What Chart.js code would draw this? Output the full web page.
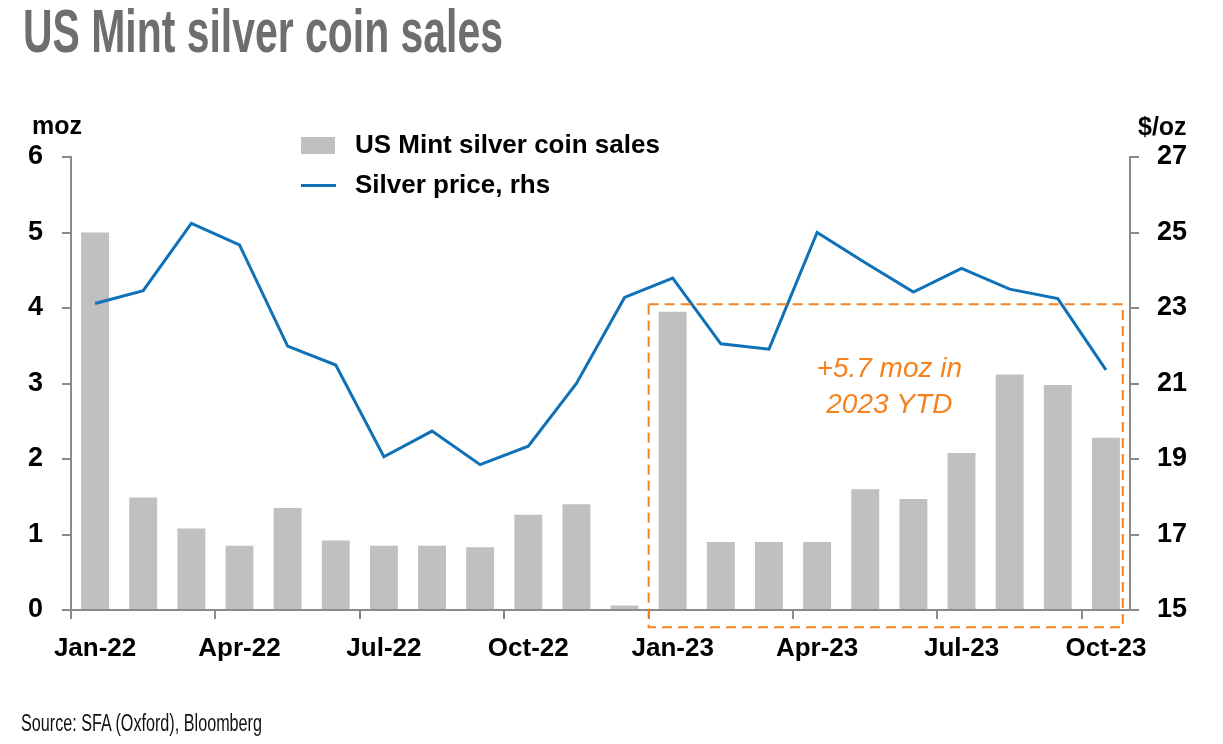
<!DOCTYPE html>
<html>
<head>
<meta charset="utf-8">
<script src="https://cdn.jsdelivr.net/npm/chart.js@4.4.1/dist/chart.umd.min.js"></script>
<style>
  html, body { margin: 0; padding: 0; background: #fff; }
  #wrap { position: relative; width: 1223px; height: 744px; overflow: hidden; font-family: "Liberation Sans", Arial, sans-serif; }
  #chart { position: absolute; left: 0; top: 0; }
  .txt { position: absolute; white-space: nowrap; line-height: 1; }
  #title { left: 23px; top: 0px; font-size: 62px; font-weight: bold; color: #6d6e70; transform-origin: 0 0; }
  #source { left: 21px; top: 712px; font-size: 23px; color: #111; transform-origin: 0 0; }
  .unit { font-size: 25px; font-weight: bold; color: #000; }
  .leg { font-size: 26px; font-weight: bold; color: #000; left: 355px; }
  .swatch { position: absolute; }
</style>
</head>
<body>
<div id="wrap">
  <canvas id="chart" width="1223" height="744"></canvas>
  <div id="title" class="txt">US Mint silver coin sales</div>
  <div class="txt unit" style="left:32px; top:113px;">moz</div>
  <div class="txt unit" style="left:1138px; top:114px;">$/oz</div>
  <div class="swatch" style="left:301px; top:137px; width:34px; height:17px; background:#bfc0bf;"></div>
  <div class="txt leg" style="top:131px;">US Mint silver coin sales</div>
  <div class="swatch" style="left:301px; top:184px; width:35px; height:3px; background:#0f71b8;"></div>
  <div class="txt leg" style="top:171px;">Silver price, rhs</div>
  <div id="source" class="txt">Source: SFA (Oxford), Bloomberg</div>
</div>
<script>
const months = [
  "Jan-22", "Feb-22", "Mar-22", "Apr-22", "May-22", "Jun-22",
  "Jul-22", "Aug-22", "Sep-22", "Oct-22", "Nov-22", "Dec-22",
  "Jan-23", "Feb-23", "Mar-23", "Apr-23", "May-23", "Jun-23",
  "Jul-23", "Aug-23", "Sep-23", "Oct-23",
];
// moz, left axis
const coinSales = [
  5.0, 1.49, 1.08, 0.85, 1.35, 0.92, 0.85, 0.85, 0.83, 1.26, 1.4, 0.06,
  3.95, 0.9, 0.9, 0.9, 1.6, 1.47, 2.08, 3.12, 2.98, 2.28,
];
// $/oz, right axis
const silverPrice = [
  23.12, 23.46, 25.24, 24.67, 21.99, 21.49, 19.06, 19.74, 18.85, 19.34, 21.0, 23.28,
  23.79, 22.05, 21.91, 25.0, 24.2, 23.42, 24.05, 23.5, 23.25, 21.36,
];
const salesTicks = [0, 1, 2, 3, 4, 5, 6];
const priceTicks = [15, 17, 19, 21, 23, 25, 27];
const noteLines = ["+5.7 moz in", "2023 YTD"];

const AXIS = "#8a8a8a";
const BAR = "#bfc0bf";
const BLUE = "#0f71b8";
const ORANGE = "#f5821f";
const FONT = "'Liberation Sans', Arial, sans-serif";

// fit condensed texts to reference widths
function squeeze(id, width) {
  const el = document.getElementById(id);
  const w = el.getBoundingClientRect().width;
  if (w > 0) el.style.transform = `scaleX(${width / w})`;
}
squeeze("title", 480);
squeeze("source", 241);

// dashed box + note for 2023 YTD
const ytdBox = {
  id: "ytdBox",
  afterDatasetsDraw(chart) {
    const { ctx, scales } = chart;
    const x = scales.x;
    const y = scales.y;
    const left = x.getPixelForValue(11.5);
    const right = x.getPixelForValue(21.35);
    const top = y.getPixelForValue(4.05);
    const bottom = y.getPixelForValue(-0.23);
    ctx.save();
    ctx.strokeStyle = ORANGE;
    ctx.lineWidth = 2;
    ctx.setLineDash([10, 6]);
    ctx.strokeRect(left, top, right - left, bottom - top);
    ctx.setLineDash([]);
    ctx.fillStyle = ORANGE;
    ctx.font = `italic 28px ${FONT}`;
    ctx.textAlign = "center";
    ctx.textBaseline = "alphabetic";
    const cx = x.getPixelForValue(16.5);
    ctx.fillText(noteLines[0], cx, y.getPixelForValue(3.09));
    ctx.fillText(noteLines[1], cx, y.getPixelForValue(2.61));
    ctx.restore();
  },
};

new Chart(document.getElementById("chart"), {
  type: "bar",
  data: {
    labels: months,
    datasets: [
      {
        type: "line",
        label: "Silver price, rhs",
        data: silverPrice,
        yAxisID: "y1",
        borderColor: BLUE,
        borderWidth: 3,
        pointRadius: 0,
        tension: 0,
        fill: false,
        order: 0,
      },
      {
        label: "US Mint silver coin sales",
        data: coinSales,
        yAxisID: "y",
        backgroundColor: BAR,
        categoryPercentage: 1,
        barPercentage: 0.58,
        order: 1,
      },
    ],
  },
  options: {
    responsive: false,
    animation: false,
    layout: { padding: { top: 157, left: 0, right: 0, bottom: 0 } },
    plugins: {
      legend: { display: false },
      tooltip: { enabled: false },
    },
    scales: {
      x: {
        offset: true,
        grid: {
          offset: true,
          drawOnChartArea: false,
          tickLength: 9,
          lineWidth: 2,
          tickColor: (ctx) => (ctx.index !== undefined && ctx.index % 3 === 0 ? AXIS : "rgba(0,0,0,0)"),
        },
        border: { display: true, color: AXIS, width: 2 },
        ticks: {
          autoSkip: false,
          maxRotation: 0,
          padding: 14,
          color: "#000",
          font: { family: FONT, size: 26, weight: "bold" },
          callback: (value, index) => (index % 3 === 0 ? months[index] : ""),
        },
        afterFit: (scale) => { scale.height = 134; },
      },
      y: {
        position: "left",
        min: salesTicks[0],
        max: salesTicks[salesTicks.length - 1],
        afterBuildTicks: (scale) => { scale.ticks = salesTicks.map((v) => ({ value: v })); },
        grid: { drawOnChartArea: false, tickLength: 9, lineWidth: 2, tickColor: AXIS },
        border: { display: true, color: AXIS, width: 2 },
        ticks: {
          padding: 19,
          color: "#000",
          font: { family: FONT, size: 27, weight: "bold" },
        },
        afterFit: (scale) => { scale.width = 71; },
      },
      y1: {
        position: "right",
        min: priceTicks[0],
        max: priceTicks[priceTicks.length - 1],
        afterBuildTicks: (scale) => { scale.ticks = priceTicks.map((v) => ({ value: v })); },
        grid: { drawOnChartArea: false, tickLength: 9, lineWidth: 2, tickColor: AXIS },
        border: { display: true, color: AXIS, width: 2 },
        ticks: {
          padding: 18,
          color: "#000",
          font: { family: FONT, size: 27, weight: "bold" },
        },
        afterFit: (scale) => { scale.width = 93; },
      },
    },
  },
  plugins: [ytdBox],
});
</script>
</body>
</html>
